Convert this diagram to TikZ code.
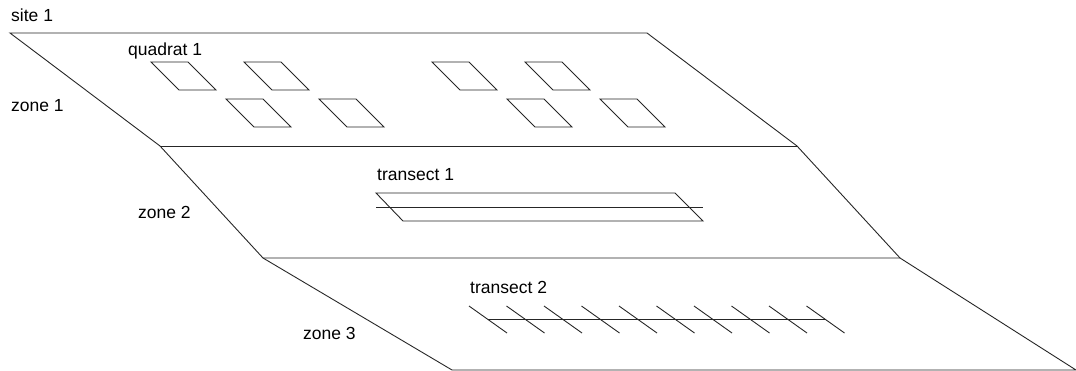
\documentclass[tikz,border=0pt]{standalone}
\usepackage{fontspec}
\setmainfont{Liberation Sans}
\begin{document}
\begin{tikzpicture}[x=1pt,y=-1pt,
  edge/.style={draw=black!85,line width=0.9pt},
  lbl/.style={anchor=base west,inner sep=0pt,font=\fontsize{17.5}{19}\selectfont},
  quad/.style={edge}]
\useasboundingbox (0,0) rectangle (1076,371);
% site outline
\coordinate (a1) at (10,33);
\coordinate (a2) at (647,33);
\coordinate (b1) at (160,146);
\coordinate (b2) at (797,146);
\coordinate (c1) at (263,258);
\coordinate (c2) at (900,258);
\coordinate (d1) at (452,370);
\coordinate (d2) at (1076,370);
\draw[edge] (b1) -- (a1) -- (a2) -- (b2);
\draw[edge] (b1) -- (b2);
\draw[edge] (b1) -- (c1) -- (c2);
\draw[edge] (b2) -- (c2);
\draw[edge] (c1) -- (d1) -- (d2) -- (c2);
% quadrats
\foreach \x/\y in {151/62,244/62,226/99,319/99,432/62,525/62,507/99,600/99}
  \draw[quad] (\x,\y) -- ++(37,0) -- ++(28,28) -- ++(-37,0) -- cycle;
% transect 1
\draw[edge] (376,193) -- (675,193) -- (703,221) -- (403,221) -- cycle;
\draw[edge] (376,207) -- (703,207);
% transect 2
\draw[edge] (488,319) -- (825,319);
\foreach \i in {0,...,9}
  \draw[edge] (469+37.5*\i,306) -- ++(38,27);
% labels
\node[lbl] (site) at (11,22) {site 1};
\node[lbl] (quad1) at (128,56) {quadrat 1};
\node[lbl] (z1) at (11,112) {zone 1};
\node[lbl] (z2) at (138,219) {zone 2};
\node[lbl] (z3) at (303,339) {zone 3};
\node[lbl] (t1) at (377,181) {transect 1};
\node[lbl] (t2) at (470,294) {transect 2};
\end{tikzpicture}
\end{document}
